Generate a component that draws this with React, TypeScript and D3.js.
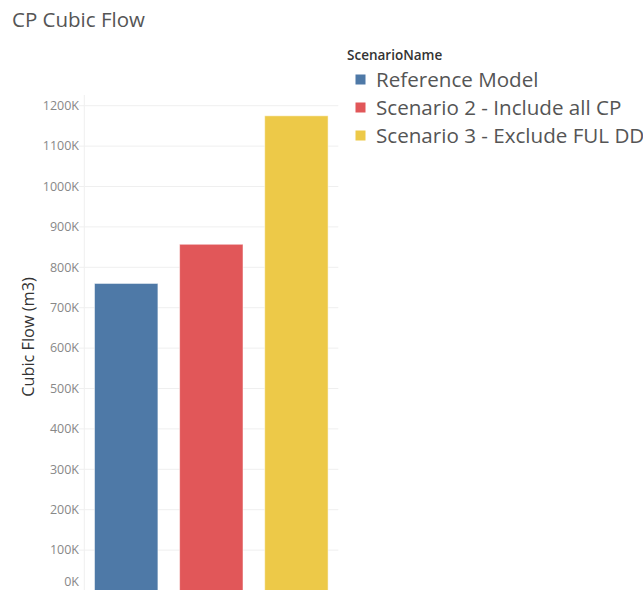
import React from "react";
import * as d3 from "d3";

const categories = ["Reference Model", "Scenario 2 - Include all CP", "Scenario 3 - Exclude FUL DD"];
const values = [760000, 857000, 1175000];
const colors = ["#4e79a7", "#e15759", "#edc948"];
const tickValues = [0, 100000, 200000, 300000, 400000, 500000, 600000, 700000, 800000, 900000, 1000000, 1100000, 1200000];
const tickLabels = ["0K", "100K", "200K", "300K", "400K", "500K", "600K", "700K", "800K", "900K", "1000K", "1100K", "1200K"];

export default function App() {
  const W = 643, H = 590;
  const x = d3.scaleBand<string>().domain(categories).range([84.3, 338.3]).paddingInner(0.255).paddingOuter(0.12);
  const y = d3.scaleLinear().domain([0, 1200000]).range([590.5, 105.7]);
  const font = "'Open Sans', sans-serif";
  return (
    <svg width={W} height={H} style={{ position: "absolute", left: 0, top: 0, background: "#fff" }} fontFamily={font}>
      <text x={12} y={27} fontSize={20.5} fill="#555">CP Cubic Flow</text>
      {tickValues.map((t, i) => (
        <g key={t}>
          <line x1={84.3} x2={338.3} y1={y(t)} y2={y(t)} stroke="#efefef" strokeWidth={1} />
          <line x1={79} x2={84.3} y1={y(t)} y2={y(t)} stroke="#efefef" strokeWidth={1} />
          <text x={79} y={t === 0 ? y(t) - 9 : y(t)} dy="0.35em" textAnchor="end" fontSize={12.5} fill="#888">{tickLabels[i]}</text>
        </g>
      ))}
      <line x1={84.3} x2={84.3} y1={95} y2={H} stroke="#efefef" />
      {categories.map((c, i) => (
        <rect key={c} x={x(c)} y={y(values[i])} width={x.bandwidth()} height={y(0) - y(values[i])} fill={colors[i]} stroke="#fff" strokeOpacity={0.5} strokeWidth={1} />
      ))}
      <text transform={`translate(34,337) rotate(-90)`} textAnchor="middle" fontSize={16.3} fill="#333">Cubic Flow (m3)</text>
      <text x={347} y={60} fontSize={13.5} fontWeight={600} fill="#333">ScenarioName</text>
      {categories.map((c, i) => (
        <g key={c}>
          <rect x={355.5} y={74.5 + i * 28} width={10} height={10} fill={colors[i]} />
          <text x={376} y={79.5 + i * 28} dy="0.35em" fontSize={20.6} fill="#555">{c}</text>
        </g>
      ))}
    </svg>
  );
}
